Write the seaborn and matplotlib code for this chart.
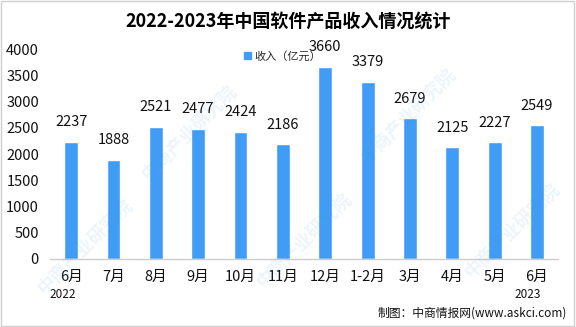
import matplotlib
matplotlib.use("Agg")
import matplotlib.pyplot as plt
import matplotlib.patches as mpatches
import seaborn as sns
import pandas as pd

periods = ["2022-06", "2022-07", "2022-08", "2022-09", "2022-10", "2022-11",
           "2022-12", "2023-01/02", "2023-03", "2023-04", "2023-05", "2023-06"]
month_labels = ["6月", "7月", "8月", "9月", "10月", "11月",
                "12月", "1-2月", "3月", "4月", "5月", "6月"]
revenue = [2237, 1888, 2521, 2477, 2424, 2186, 3660, 3379, 2679, 2125, 2227, 2549]
y_ticks = [0, 500, 1000, 1500, 2000, 2500, 3000, 3500, 4000]

sns.set_theme(style="white")
plt.rcParams["font.family"] = ["Noto Sans CJK SC", "DejaVu Sans"]

df = pd.DataFrame({"period": periods, "revenue": revenue})
bar_color = "#409cf4"

fig = plt.figure(figsize=(5.76, 3.27), dpi=100)
ax = fig.add_axes([0.0868, 0.208, 0.882, 0.642])

# faint diagonal watermark
for (wx, wy) in [(0.06, 0.10), (0.24, 0.45), (0.44, 0.12), (0.62, 0.50),
                 (0.80, 0.15)]:
    fig.text(wx, wy, "中商产业研究院", rotation=45, fontsize=13, color="#4a9be0",
             alpha=0.10, fontweight="bold", zorder=0)

sns.barplot(data=df, x="period", y="revenue", color=bar_color, width=0.33,
            saturation=1, ax=ax, zorder=2)

ax.set_ylim(0, 4000)
ax.set_xlim(-0.5, len(periods) - 0.5)
ax.set_yticks(y_ticks)
ax.set_yticklabels([str(t) for t in y_ticks], fontsize=10.5, color="#111111")
ax.set_xticks(range(len(periods)))
ax.set_xticklabels(month_labels, fontsize=10.5, color="#111111")
ax.set_xlabel("")
ax.set_ylabel("")
ax.tick_params(axis="both", length=0)
ax.tick_params(axis="x", pad=8)
ax.tick_params(axis="y", pad=8)
for side in ["left", "right", "top"]:
    ax.spines[side].set_visible(False)
ax.spines["bottom"].set_color("#cccccc")
ax.spines["bottom"].set_linewidth(1.0)
ax.patch.set_alpha(0)

for container in ax.containers:
    ax.bar_label(container, labels=[str(v) for v in revenue], padding=9,
                 fontsize=10.5, color="#111111")

# year markers under first and last months
ax.text(-0.2, -0.14, "2022", transform=ax.get_xaxis_transform(), ha="center",
        va="top", fontsize=8.5, color="#111111")
ax.text(len(periods) - 0.9, -0.14, "2023", transform=ax.get_xaxis_transform(),
        ha="right", va="top", fontsize=8.5, color="#111111")

handle = mpatches.Patch(color=bar_color, label="收入（亿元）")
fig.legend(handles=[handle], loc="center", bbox_to_anchor=(0.49, 0.828),
           frameon=False, fontsize=8, handlelength=0.6, handleheight=0.6,
           handletextpad=0.3, borderpad=0.1)

fig.text(0.5, 0.935, "2022-2023年中国软件产品收入情况统计", ha="center", va="center",
         fontsize=13, fontweight="bold", color="#000000")
fig.text(0.985, 0.042, "制图：中商情报网(www.askci.com)", ha="right", va="center",
         fontsize=8.5, color="#111111")

border = mpatches.Rectangle((0.002, 0.003), 0.995, 0.994, transform=fig.transFigure,
                            fill=False, edgecolor="#d0d0d0", linewidth=1.0)
fig.add_artist(border)

fig.savefig("out.png", dpi=100)
